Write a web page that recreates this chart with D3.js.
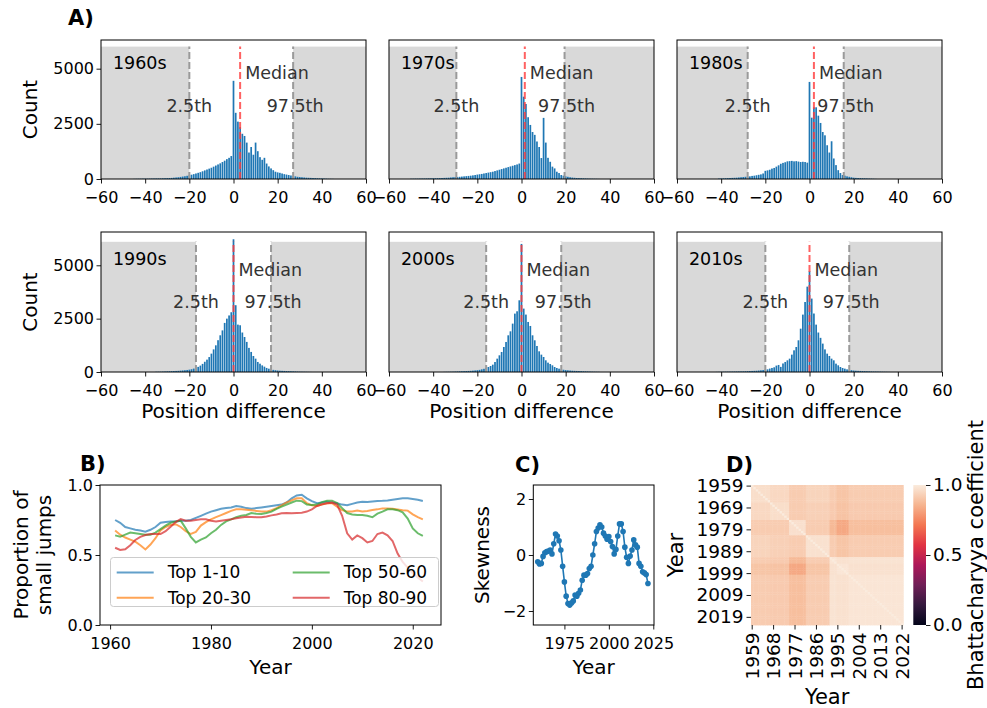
<!DOCTYPE html>
<html>
<head>
<meta charset="utf-8">
<script src="https://cdn.jsdelivr.net/npm/d3@7"></script>
<style>
  body { margin: 0; background: #fff; }
  svg { font-family: "DejaVu Sans", sans-serif; }
</style>
</head>
<body>
<script>
// ---- data ----
const decades = ['1960s', '1970s', '1980s', '1990s', '2000s', '2010s'];
const binStart = -50; // first bin of every count array, one bin per position
const counts1960s = [0,0,0,0,0,5,8,10,12,15, 15,16,18,20,22,24,26,28,32,36, 40,45,50,60,70,80,95,110,125,145,
  170,195,220,250,280,310,350,390,430,470, 510,560,610,660,710,770,830,900,960,1040,
  4450,3000,2600,2350,2050,1950,1650,1200,1450,1100, 1650,1260,990,870,960,700,570,480,400,330,
  300,280,250,220,200,180,160,140,120,100, 90,80,70,60,55,50,45,40,35,30, 25,20,15,10,8,5,0,0,0,0,0];
const counts1970s = [10,12,15,15,18,20,22,25,28,30, 32,35,38,40,45,50,55,60,70,80, 90,95,100,110,120,130,140,150,165,180,
  200,215,230,250,270,290,310,330,360,390, 420,450,480,510,540,570,600,630,660,700,
  4625,3730,3400,2800,2450,2130,2000,1700,1450,950, 2770,1650,960,780,560,480,330,270,180,150,
  120,100,80,65,55,45,40,35,30,25, 20,15,12,10,8,5,0,0,0,0, 0,0,0,0,0,0,0,0,0,0,0];
const counts1980s = [0,0,0,0,0,0,0,0,0,20, 25,30,35,40,45,50,55,60,70,80, 90,100,110,120,140,150,170,190,210,250,
  370,390,420,470,500,560,620,690,730,760, 800,810,820,800,810,790,770,780,770,740,
  4400,2780,3250,3250,2870,2540,2130,1980,1530,1200, 1710,930,630,400,270,180,150,120,100,80,
  60,50,45,40,35,30,25,20,15,10, 5,0,0,0,0,0,0,0,0,0, 0,0,0,0,0,0,0,0,0,0,0];
const counts1990s = [0,0,0,0,0,0,0,0,0,0, 0,0,0,0,0,10,12,15,20,25, 30,35,40,45,50,55,65,75,85,95,
  110,130,160,200,240,300,380,480,580,700, 860,1060,1250,1490,1720,1950,2300,2500,2650,2800,
  6220,3130,2220,2190,1850,1640,1410,1130,940,750, 625,470,390,310,250,190,155,125,100,85,
  70,60,55,50,45,40,35,30,25,20, 15,12,10,8,5,3,0,0,0,0, 0,0,0,0,0,0,0,0,0,0,0];
const counts2000s = [0,0,0,0,0,0,0,0,0,0, 0,0,0,0,0,5,8,10,12,15, 20,25,30,35,40,45,50,55,65,75,
  85,100,125,150,188,234,281,344,469,625, 782,938,1172,1407,1719,1906,2267,2736,2845,3360,
  6000,2970,2690,2345,2157,1719,1485,1219,969,813, 703,547,438,375,313,234,188,156,125,105,
  90,80,70,60,55,50,45,40,35,30, 25,20,15,12,10,8,0,0,0,0, 0,0,0,0,0,0,0,0,0,0,0];
const counts2010s = [0,0,0,0,0,0,0,0,5,8, 10,12,14,16,18,20,22,24,26,28, 30,35,40,45,50,55,60,70,80,90,
  110,125,160,190,220,300,330,240,400,470, 547,625,813,1016,1172,1485,2030,2690,3280,4000,
  4720,3440,2740,2220,1850,1600,1330,1060,860,750, 625,547,391,313,234,188,156,125,100,85,
  70,60,55,50,45,40,35,30,25,22, 20,18,15,12,10,8,5,0,0,0, 0,0,0,0,0,0,0,0,0,0,0];
const decadeCounts = [counts1960s, counts1970s, counts1980s, counts1990s, counts2000s, counts2010s];
const lowPercentile = [-20, -29.5, -28, -17, -16, -20];
const medianDiff = [3, 1.5, 2, 0, 0, 0];
const highPercentile = [27, 19.5, 15.5, 17, 18, 18];
const shadeTop = [6000, 6100]; // per row
const histXTicks = [-60, -40, -20, 0, 20, 40, 60];
const histYTicks = [0, 2500, 5000];

const jumpYears = d3.range(1961, 2023);
const jumpSeries = ['Top 1-10', 'Top 20-30', 'Top 50-60', 'Top 80-90'];
const top1to10 = [.75,.73,.70,.69,.68,.675,.667,.68,.70,.73, .735,.74,.74,.745,.745,.75,.765,.78,.795,.81,
  .82,.83,.835,.84,.85,.845,.835,.83,.835,.84, .845,.85,.855,.86,.875,.905,.925,.93,.905,.885,
  .87,.875,.88,.875,.87,.86,.855,.865,.875,.88, .878,.882,.885,.887,.89,.895,.90,.905,.905,.90, .895,.886];
const top20to30 = [.675,.645,.625,.61,.595,.57,.54,.575,.62,.675, .70,.715,.72,.70,.67,.65,.665,.71,.735,.755,
  .77,.785,.80,.815,.826,.826,.823,.82,.815,.81, .81,.82,.835,.855,.875,.89,.905,.905,.87,.855,
  .85,.86,.87,.87,.845,.82,.81,.81,.817,.81, .815,.821,.826,.833,.833,.83,.825,.82,.817,.79, .77,.755];
const top50to60 = [.64,.63,.645,.66,.655,.65,.645,.645,.66,.685, .71,.73,.74,.745,.69,.63,.59,.61,.625,.655,
  .68,.715,.74,.755,.77,.78,.786,.80,.795,.793, .80,.81,.83,.845,.86,.875,.888,.885,.86,.857,
  .86,.878,.888,.888,.87,.835,.80,.79,.786,.786, .78,.77,.795,.81,.826,.826,.82,.805,.76,.69, .655,.636];
const top80to90 = [.552,.536,.541,.57,.607,.63,.643,.65,.65,.65, .67,.702,.735,.757,.745,.745,.75,.755,.755,.745,
  .74,.745,.75,.755,.762,.768,.774,.772,.77,.769, .775,.783,.79,.798,.80,.798,.80,.802,.81,.826,
  .85,.862,.869,.874,.86,.78,.655,.61,.64,.62, .59,.60,.65,.66,.64,.60,.51,.45,.41,.37, .34,.31];
const jumpValues = [top1to10, top20to30, top50to60, top80to90];

const skewYears = d3.range(1960, 2023);
const skewness = [-0.24,-0.32,-0.30,-0.05,0.08,0.12,0.14,0.18,0.04,0.40, 0.75,0.68,0.51,0.18,-0.40,-0.96,-1.47,-1.73,-1.79,-1.71,
  -1.64,-1.43,-1.47,-1.37,-1.25,-0.90,-0.72,-0.72,-0.66,-0.48, -0.40,0.0,0.40,0.84,0.96,1.08,1.0,0.78,0.68,0.56,
  0.66,0.48,0.30,0.04,0.20,0.68,1.11,1.11,0.84,0.28, -0.08,-0.30,-0.04,0.18,0.54,0.36,0.28,-0.30,-0.40,-0.60, -0.64,-0.70,-1.02];

const heatYears = d3.range(1959, 2023);
const heatGroupStarts = [1959, 1967, 1975, 1982, 1992, 1995, 2000];
const heatBlocks = [
  [0.965, 0.95, 0.92, 0.94, 0.92, 0.90, 0.92],
  [0.95, 0.965, 0.92, 0.93, 0.915, 0.895, 0.915],
  [0.92, 0.92, 0.97, 0.92, 0.87, 0.83, 0.885],
  [0.94, 0.93, 0.92, 0.975, 0.92, 0.90, 0.92],
  [0.92, 0.915, 0.87, 0.92, 0.985, 0.975, 0.98],
  [0.90, 0.895, 0.83, 0.90, 0.975, 0.985, 0.975],
  [0.92, 0.915, 0.885, 0.92, 0.98, 0.975, 0.985],
];
const heatXTickYears = [1959, 1968, 1977, 1986, 1995, 2004, 2013, 2022];
const heatYTickYears = [1959, 1969, 1979, 1989, 1999, 2009, 2019];
const rocketStops = [0, 0.143, 0.286, 0.429, 0.571, 0.714, 0.857, 1];
const rocketColors = ['#03051a', '#35193e', '#701f57', '#ad1759', '#e13342', '#f37651', '#f6b48f', '#faebdd'];

// ---- layout ----
const width = 987;
const height = 708;
const tab = ['#1f77b4', '#ff7f0e', '#2ca02c', '#d62728'];
const histLeft = [101, 389, 677];
const histWidth = 265;
const histTop = [40, 232];
const histHeight = [139, 140];
const histYMax = [6300, 6560];

const svg = d3.select('body').append('svg').attr('width', width).attr('height', height);
svg.append('rect').attr('width', width).attr('height', height).attr('fill', '#fff');

function styleAxis(g, size = 16) {
  g.attr('font-size', null).attr('font-family', null);
  g.select('.domain').remove();
  g.selectAll('.tick line').attr('stroke', '#000').attr('stroke-width', 0.9);
  g.selectAll('.tick text').attr('fill', '#000').style('font-size', `${size}px`);
}

function frame(x0, y0, w, h) {
  svg.append('rect').attr('x', x0).attr('y', y0).attr('width', w).attr('height', h)
    .attr('fill', 'none').attr('stroke', '#000').attr('stroke-width', 1);
}

function label(text, x, y, opts = {}) {
  const t = svg.append('text').attr('x', x).attr('y', y).attr('dy', '0.35em')
    .attr('text-anchor', opts.anchor || 'middle')
    .style('font-size', `${opts.size || 20}px`)
    .attr('fill', opts.fill || '#000')
    .text(text);
  if (opts.bold) t.attr('font-weight', 'bold');
  if (opts.rotate) t.attr('transform', `rotate(-90, ${x}, ${y})`);
  return t;
}

// ---- A) histograms ----
decades.forEach((name, i) => {
  const col = i % 3;
  const row = Math.floor(i / 3);
  const left = histLeft[col];
  const top = histTop[row];
  const bottom = top + histHeight[row];
  const x = d3.scaleLinear().domain([-60, 60]).range([left, left + histWidth]);
  const y = d3.scaleLinear().domain([0, histYMax[row]]).range([bottom, top]);
  const g = svg.append('g');

  g.append('rect').attr('x', x(-60)).attr('y', y(shadeTop[row]))
    .attr('width', x(lowPercentile[i]) - x(-60)).attr('height', y(0) - y(shadeTop[row]))
    .attr('fill', '#d9d9d9');
  g.append('rect').attr('x', x(highPercentile[i])).attr('y', y(shadeTop[row]))
    .attr('width', x(60) - x(highPercentile[i])).attr('height', y(0) - y(shadeTop[row]))
    .attr('fill', '#d9d9d9');

  const bins = decadeCounts[i].map((c, j) => ({ v: binStart + j, c })).filter(d => d.c > 0);
  const bw = x(1) - x(0);
  g.selectAll('rect.bar')
    .data(bins)
    .enter()
    .append('rect')
    .attr('class', 'bar')
    .attr('x', d => x(d.v - 0.5) + 0.25)
    .attr('y', d => y(d.c))
    .attr('width', bw - 0.5)
    .attr('height', d => y(0) - y(d.c))
    .attr('fill', tab[0]);

  [lowPercentile[i], highPercentile[i]].forEach(p => {
    g.append('line').attr('x1', x(p)).attr('x2', x(p)).attr('y1', y(0)).attr('y2', y(shadeTop[row]))
      .attr('stroke', '#9a9a9a').attr('stroke-width', 2).attr('stroke-dasharray', '7,3');
  });
  g.append('line').attr('x1', x(medianDiff[i])).attr('x2', x(medianDiff[i])).attr('y1', y(0)).attr('y2', y(shadeTop[row]))
    .attr('stroke', '#ff3b3b').attr('stroke-opacity', 0.8).attr('stroke-width', 2).attr('stroke-dasharray', '7,3');

  label(name, x(-54.6), y(5280), { anchor: 'start', size: 17.5 });
  label('Median', x(medianDiff[i]) + 5, y(4800), { anchor: 'start', size: 17.5, fill: '#333' });
  label('2.5th', x(lowPercentile[i]), y(3300), { size: 17.5, fill: '#333' });
  label('97.5th', x(highPercentile[i]) + 2, y(3300), { size: 17.5, fill: '#333' });

  const xa = svg.append('g').attr('transform', `translate(0, ${bottom})`)
    .call(d3.axisBottom(x).tickValues(histXTicks).tickSize(4.5).tickPadding(8));
  styleAxis(xa);
  if (col === 0) {
    const ya = svg.append('g').attr('transform', `translate(${left}, 0)`)
      .call(d3.axisLeft(y).tickValues(histYTicks).tickFormat(d3.format('d')).tickSize(4.5).tickPadding(2.5));
    styleAxis(ya);
    label('Count', 30, (top + bottom) / 2, { rotate: true });
  }
  if (row === 1) label('Position difference', left + histWidth / 2, 411);
  frame(left, top, histWidth, histHeight[row]);
});
label('A)', 68, 18, { anchor: 'start', size: 21, bold: true });

// ---- B) proportion of small jumps ----
{
  const left = 100, right = 441, top = 485, bottom = 625;
  const x = d3.scaleLinear().domain([1958.0, 2025.6]).range([left, right]);
  const y = d3.scaleLinear().domain([0, 1]).range([bottom, top]);
  const line = d3.line().x((d, k) => x(jumpYears[k])).y(d => y(d));
  svg.selectAll('path.jump')
    .data(jumpValues)
    .enter()
    .append('path')
    .attr('class', 'jump')
    .attr('d', line)
    .attr('fill', 'none')
    .attr('stroke', (d, k) => tab[k])
    .attr('stroke-opacity', 0.7)
    .attr('stroke-width', 2);

  const xa = svg.append('g').attr('transform', `translate(0, ${bottom})`)
    .call(d3.axisBottom(x).tickValues([1960, 1980, 2000, 2020]).tickFormat(d3.format('d')).tickSize(4.5).tickPadding(8));
  styleAxis(xa);
  const ya = svg.append('g').attr('transform', `translate(${left}, 0)`)
    .call(d3.axisLeft(y).tickValues([0, 0.5, 1]).tickFormat(d3.format('.1f')).tickSize(4.5).tickPadding(2.5));
  styleAxis(ya);

  // legend
  const lg = svg.append('g');
  lg.append('rect').attr('x', 110.5).attr('y', 557.5).attr('width', 328).attr('height', 49).attr('rx', 3)
    .attr('fill', '#fff').attr('fill-opacity', 0.8).attr('stroke', '#cccccc');
  const lx = [116.7, 292.7];
  const ly = [572.5, 597.7];
  jumpSeries.forEach((s, k) => {
    const cx = lx[Math.floor(k / 2)];
    const cy = ly[k % 2];
    lg.append('line').attr('x1', cx).attr('x2', cx + 37).attr('y1', cy).attr('y2', cy)
      .attr('stroke', tab[k]).attr('stroke-opacity', 0.7).attr('stroke-width', 2);
    lg.append('text').attr('x', cx + 51).attr('y', cy).attr('dy', '0.35em')
      .style('font-size', '17px').text(s);
  });

  frame(left, top, right - left, bottom - top);
  label('Year', (left + right) / 2, 667);
  label('Proportion of', 21, 555, { rotate: true });
  label('small jumps', 44, 555, { rotate: true });
  label('B)', 80, 464, { anchor: 'start', size: 21, bold: true });
}

// ---- C) skewness ----
{
  const left = 533.3, right = 654, top = 485, bottom = 625;
  const x = d3.scaleLinear().domain([1957.5, 2025.4]).range([left, right]);
  const y = d3.scaleLinear().domain([-2.5, 2.5]).range([bottom, top]);
  const line = d3.line().x((d, k) => x(skewYears[k])).y(d => y(d));
  svg.append('path').datum(skewness).attr('d', line)
    .attr('fill', 'none').attr('stroke', tab[0]).attr('stroke-width', 1.6);
  svg.selectAll('circle.skew')
    .data(skewness)
    .enter()
    .append('circle')
    .attr('class', 'skew')
    .attr('cx', (d, k) => x(skewYears[k]))
    .attr('cy', d => y(d))
    .attr('r', 2.8)
    .attr('fill', tab[0]);

  const xa = svg.append('g').attr('transform', `translate(0, ${bottom})`)
    .call(d3.axisBottom(x).tickValues([1975, 2000, 2025]).tickFormat(d3.format('d')).tickSize(4.5).tickPadding(8));
  styleAxis(xa);
  const ya = svg.append('g').attr('transform', `translate(${left}, 0)`)
    .call(d3.axisLeft(y).tickValues([-2, 0, 2]).tickFormat(d3.format('d')).tickSize(4.5).tickPadding(2.5));
  styleAxis(ya);
  frame(left, top, right - left, bottom - top);
  label('Year', (left + right) / 2, 667);
  label('Skewness', 482, 555, { rotate: true });
  label('C)', 515, 465, { anchor: 'start', size: 21, bold: true });
}

// ---- D) heatmap ----
{
  const left = 751, right = 903.3, top = 485, bottom = 625;
  const x = d3.scaleBand().domain(heatYears).range([left, right]);
  const y = d3.scaleBand().domain(heatYears).range([top, bottom]);
  const color = d3.scaleLinear().domain(rocketStops).range(rocketColors).clamp(true);
  const group = yr => d3.bisectRight(heatGroupStarts, yr) - 1;
  const cells = [];
  heatYears.forEach(r => heatYears.forEach(c => {
    cells.push({ r, c, v: r === c ? 1 : heatBlocks[group(r)][group(c)] });
  }));
  svg.append('g').selectAll('rect')
    .data(cells)
    .enter()
    .append('rect')
    .attr('x', d => x(d.c))
    .attr('y', d => y(d.r))
    .attr('width', x.bandwidth() + 0.4)
    .attr('height', y.bandwidth() + 0.4)
    .attr('fill', d => color(d.v));

  const xa = svg.append('g').attr('transform', `translate(0, ${bottom})`)
    .call(d3.axisBottom(x).tickValues(heatXTickYears).tickSize(4.5).tickPadding(3));
  styleAxis(xa, 18.5);
  xa.selectAll('.tick text')
    .attr('y', 0).attr('dy', '0.35em')
    .attr('text-anchor', 'end')
    .attr('transform', 'translate(0, 7.5) rotate(-90)');
  const ya = svg.append('g').attr('transform', `translate(${left}, 0)`)
    .call(d3.axisLeft(y).tickValues(heatYTickYears).tickSize(4.5).tickPadding(3));
  styleAxis(ya, 18.5);
  label('Year', (left + right) / 2, 697, { size: 21 });
  label('Year', 676, 555, { rotate: true, size: 21 });
  label('D)', 726, 465, { anchor: 'start', size: 21, bold: true });

  // colorbar
  const cbLeft = 913.3, cbWidth = 12.7;
  const grad = svg.append('defs').append('linearGradient').attr('id', 'rocket')
    .attr('x1', 0).attr('y1', 1).attr('x2', 0).attr('y2', 0);
  rocketStops.forEach((s, k) => grad.append('stop').attr('offset', s).attr('stop-color', rocketColors[k]));
  svg.append('rect').attr('x', cbLeft).attr('y', top).attr('width', cbWidth).attr('height', bottom - top)
    .attr('fill', 'url(#rocket)');
  const cy = d3.scaleLinear().domain([0, 1]).range([bottom, top]);
  const ca = svg.append('g').attr('transform', `translate(${cbLeft + cbWidth}, 0)`)
    .call(d3.axisRight(cy).tickValues([0, 0.5, 1]).tickFormat(d3.format('.1f')).tickSize(4.5).tickPadding(2.5));
  styleAxis(ca, 18.5);
  label('Bhattacharyya coefficient', 976, 555, { rotate: true, size: 21 });
}
</script>
</body>
</html>
